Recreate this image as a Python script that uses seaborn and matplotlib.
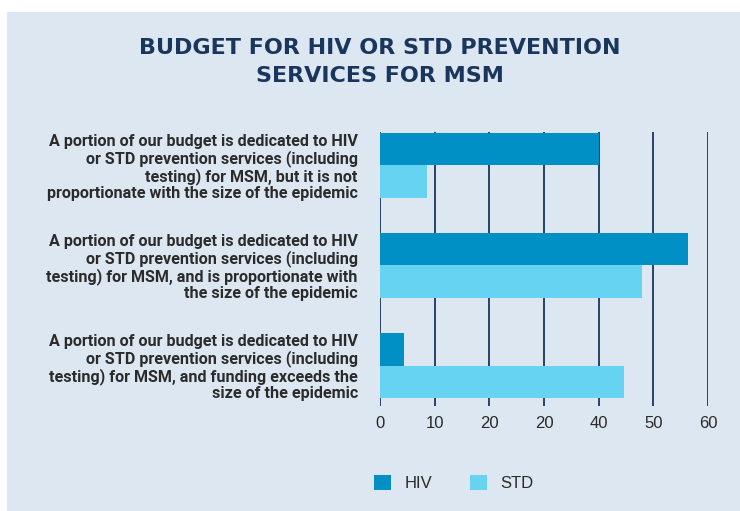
import matplotlib
matplotlib.use("Agg")
import matplotlib.pyplot as plt
from matplotlib.patches import Rectangle
import pandas as pd
import seaborn as sns

categories = [
    "A portion of our budget is dedicated to HIV\nor STD prevention services (including\ntesting) for MSM, but it is not\nproportionate with the size of the epidemic",
    "A portion of our budget is dedicated to HIV\nor STD prevention services (including\ntesting) for MSM, and is proportionate with\nthe size of the epidemic",
    "A portion of our budget is dedicated to HIV\nor STD prevention services (including\ntesting) for MSM, and funding exceeds the\nsize of the epidemic",
]
hiv_values = [40, 56.3, 4.4]
std_values = [8.6, 47.9, 44.6]
series = ["HIV", "STD"]
x_ticks = [0, 10, 20, 30, 40, 50, 60]
x_tick_labels = ["0", "10", "20", "20", "40", "50", "60"]

df = pd.DataFrame({
    "category": categories * 2,
    "value": hiv_values + std_values,
    "series": [series[0]] * 3 + [series[1]] * 3,
})

panel_bg = "#dce7f2"
navy = "#1b365d"
colors = {"HIV": "#0090c6", "STD": "#66d3f3"}

sns.set_theme(style="white")
plt.rcParams["font.family"] = ["Roboto", "DejaVu Sans"]

fig = plt.figure(figsize=(7.4, 5.11), dpi=100, facecolor="white")
fig.patches.append(Rectangle((7 / 740, 0), 1, 1 - 12 / 511, transform=fig.transFigure,
                             facecolor=panel_bg, edgecolor="none", zorder=-10))

ax = fig.add_axes([380 / 740, 1 - 406 / 511, (708 - 380) / 740, (406 - 132) / 511])
ax.set_facecolor("none")
sns.barplot(data=df, y="category", x="value", hue="series", palette=colors,
            orient="h", width=0.65, saturation=1, linewidth=0, ax=ax, legend=True)

ax.set_xlim(0, 60)
ax.set_ylim(2.4, -0.33)
ax.set_xticks(x_ticks)
ax.set_xticklabels(x_tick_labels, fontsize=12, color="#2a2a2a", family="Liberation Sans")
ax.tick_params(axis="both", length=0)
ax.tick_params(axis="x", pad=7)
ax.tick_params(axis="y", pad=16)
for lbl in ax.get_yticklabels():
    lbl.set_fontweight("bold")
    lbl.set_fontsize(11.6)
    lbl.set_color("#2b2b2b")
    lbl.set_linespacing(1.08)
    lbl.set_horizontalalignment("right")
ax.set_xlabel("")
ax.set_ylabel("")
for s in ax.spines.values():
    s.set_visible(False)
ax.set_axisbelow(True)
ax.grid(axis="x", color=navy, linewidth=1.3)
ax.grid(axis="y", visible=False)

sns.move_legend(ax, "center", bbox_to_anchor=(454 / 740, 1 - 483 / 511),
                bbox_transform=fig.transFigure, ncol=2, frameon=False, title=None,
                handlelength=1.0, handleheight=1.0, handletextpad=0.8,
                columnspacing=2.3, prop={"family": "Liberation Sans", "size": 12})
for t in ax.get_legend().get_texts():
    t.set_color("#2a2a2a")
for h in ax.get_legend().legend_handles:
    h.set_linewidth(0)

fig.text(380 / 740, 1 - 62 / 511, "BUDGET FOR HIV OR STD PREVENTION\nSERVICES FOR MSM",
         ha="center", va="center", fontsize=16, fontweight="bold", color=navy,
         linespacing=1.5, family="DejaVu Sans")

fig.savefig("out.png", dpi=100, facecolor="white")
